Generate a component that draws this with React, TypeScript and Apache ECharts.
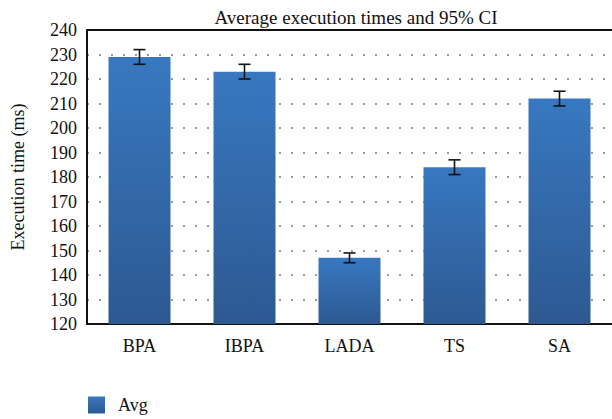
import React, { useEffect, useRef } from "react";
import * as echarts from "echarts";

const categories = ["BPA", "IBPA", "LADA", "TS", "SA"];
const avgValues = [229, 223, 147, 184, 212];
const ciLow = [226, 220, 145, 181, 209];
const ciHigh = [232, 226, 149, 187, 215];
const yTicks = { min: 120, max: 240, interval: 10 };

const FONT = "'Liberation Serif', 'DejaVu Serif', serif";

export default function App() {
  const ref = useRef<HTMLDivElement>(null);
  useEffect(() => {
    document.body.style.margin = "0";
    const chart = echarts.init(ref.current!, null, { renderer: "svg" });
    const errData = categories.map((c, i) => [i, ciLow[i], ciHigh[i]]);
    chart.setOption({
      animation: false,
      backgroundColor: "#ffffff",
      title: {
        text: "Average execution times and 95% CI",
        left: 351,
        textAlign: "center",
        top: 3,
        textStyle: { fontFamily: FONT, fontSize: 19, fontWeight: "normal", color: "#111" },
      },
      legend: {
        left: 88,
        top: 396,
        padding: 0,
        itemWidth: 17,
        itemHeight: 17,
        icon: "rect",
        data: ["Avg"],
        formatter: "  {name}",
        textStyle: { fontFamily: FONT, fontSize: 18, color: "#111" },
      },
      grid: { left: 87, right: -4, top: 30, bottom: 95, containLabel: false },
      xAxis: {
        type: "category",
        data: categories,
        axisLine: { lineStyle: { color: "#111", width: 2 } },
        axisTick: { show: false },
        axisLabel: { fontFamily: FONT, fontSize: 18, color: "#111", margin: 13 },
      },
      yAxis: {
        type: "value",
        min: yTicks.min,
        max: yTicks.max,
        interval: yTicks.interval,
        name: "Execution time (ms)",
        nameLocation: "middle",
        nameGap: 60,
        nameTextStyle: { fontFamily: FONT, fontSize: 18, color: "#111" },
        axisLine: { show: true, lineStyle: { color: "#111", width: 2 } },
        axisTick: { show: false },
        axisLabel: { fontFamily: FONT, fontSize: 18, color: "#111", margin: 10 },
        splitLine: {
          show: true,
          lineStyle: { color: "#999", type: [2, 10], width: 2 },
        },
      },
      graphic: [
        {
          type: "line",
          shape: { x1: 87, y1: 30, x2: 612, y2: 30 },
          style: { stroke: "#111", lineWidth: 2 },
          z: 10,
        },
      ],
      series: [
        {
          name: "Avg",
          type: "bar",
          data: avgValues,
          barWidth: 62,
          itemStyle: {
            color: new echarts.graphic.LinearGradient(0, 0, 0, 1, [
              { offset: 0, color: "#3878c0" },
              { offset: 1, color: "#2d5991" },
            ]),
          },
        },
        {
          name: "CI",
          type: "custom",
          data: errData,
          z: 5,
          renderItem: (params: any, api: any) => {
            const x = api.value(0);
            const lo = api.coord([x, api.value(1)]);
            const hi = api.coord([x, api.value(2)]);
            const half = 6;
            const st = { stroke: "#111", lineWidth: 1.6 };
            return {
              type: "group",
              children: [
                { type: "line", shape: { x1: lo[0], y1: lo[1], x2: hi[0], y2: hi[1] }, style: st },
                { type: "line", shape: { x1: lo[0] - half, y1: lo[1], x2: lo[0] + half, y2: lo[1] }, style: st },
                { type: "line", shape: { x1: hi[0] - half, y1: hi[1], x2: hi[0] + half, y2: hi[1] }, style: st },
              ],
            };
          },
        },
      ],
    });
    return () => chart.dispose();
  }, []);
  return <div ref={ref} style={{ width: 612, height: 419 }} />;
}
